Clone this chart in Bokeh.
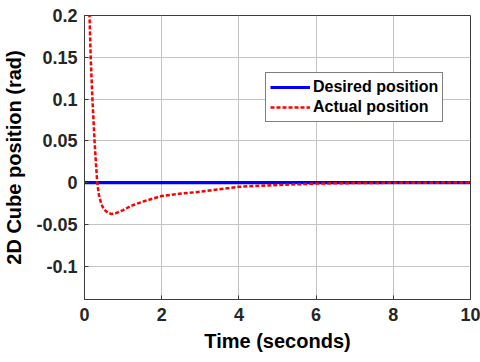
from bokeh.plotting import figure
from bokeh.models import FixedTicker, Legend, LegendItem, Range1d
from bokeh.embed import file_html
from bokeh.resources import INLINE

# Data
t_desired = [0.0, 10.0]
y_desired = [0.0, 0.0]

t_actual = [0.10, 0.13, 0.16, 0.205, 0.26, 0.295, 0.33, 0.37, 0.43, 0.5, 0.6, 0.69, 0.8,
            1.0, 1.2, 1.5, 2.0, 2.5, 3.0, 3.5, 4.0, 5.0, 6.0, 7.0, 8.0, 9.0, 10.0]
y_actual = [0.26, 0.2, 0.15, 0.1, 0.05, 0.024, 0.0, -0.014, -0.025, -0.032, -0.036, -0.0375, -0.037,
            -0.033, -0.028, -0.023, -0.016, -0.0132, -0.011, -0.008, -0.005, -0.003, -0.0012,
            -0.0006, -0.0003, -0.0001, 0.0]

x_ticks = [0, 2, 4, 6, 8, 10]
y_ticks = [-0.1, -0.05, 0, 0.05, 0.1, 0.15, 0.2]
y_tick_labels = ["-0.1", "-0.05", "0", "0.05", "0.1", "0.15", "0.2"]

FONT = "Liberation Sans"

p = figure(width=480, height=362, output_backend="svg", toolbar_location=None,
           x_range=Range1d(0, 10), y_range=Range1d(-0.14, 0.2),
           min_border_left=83, min_border_right=10, min_border_top=15, min_border_bottom=63)

p.background_fill_color = "white"
p.border_fill_color = "white"
p.outline_line_color = "#3c3c3c"
p.outline_line_width = 1

for ax in (p.xaxis[0], p.yaxis[0]):
    ax.axis_line_color = "#3c3c3c"
    ax.major_tick_line_color = "#3c3c3c"
    ax.major_tick_in = 4
    ax.major_tick_out = 0
    ax.minor_tick_line_color = None
    ax.major_label_text_font = FONT
    ax.major_label_text_font_style = "bold"
    ax.major_label_text_font_size = "18px"
    ax.major_label_text_color = "#262626"
    ax.axis_label_text_font = FONT
    ax.axis_label_text_font_style = "bold"
    ax.axis_label_text_font_size = "20px"
    ax.axis_label_text_color = "#000000"

p.xaxis.ticker = FixedTicker(ticks=x_ticks)
p.yaxis.ticker = FixedTicker(ticks=y_ticks)
p.yaxis.major_label_overrides = {v: s for v, s in zip(y_ticks, y_tick_labels)}
p.xaxis.axis_label = "Time (seconds)"
p.yaxis.axis_label = "2D Cube position (rad)"
p.xaxis.major_label_standoff = 8
p.yaxis.major_label_standoff = 7
p.xaxis.axis_label_standoff = 6
p.yaxis.axis_label_standoff = 8

p.xgrid.grid_line_color = "#c4c4c4"
p.ygrid.grid_line_color = "#c4c4c4"
p.xgrid.grid_line_width = 1
p.ygrid.grid_line_width = 1

r_des = p.line(t_desired, y_desired, line_color="#0000ff", line_width=3.2)
r_act = p.line(t_actual, y_actual, line_color="#ff0000", line_width=2.5, line_dash="4 2")

legend = Legend(items=[LegendItem(label="Desired position", renderers=[r_des]),
                       LegendItem(label="Actual position", renderers=[r_act])],
                location=(181, 177))
legend.label_text_font = FONT
legend.label_text_font_style = "bold"
legend.label_text_font_size = "16px"
legend.label_text_color = "#000000"
legend.border_line_color = "#000000"
legend.border_line_width = 1
legend.background_fill_color = "white"
legend.background_fill_alpha = 1
legend.glyph_width = 40
legend.glyph_height = 20
legend.label_height = 20
legend.label_standoff = 3
legend.padding = 4
legend.spacing = 0
legend.margin = 0
p.add_layout(legend, "center")

open("out.html", "w").write(file_html(p, INLINE))
